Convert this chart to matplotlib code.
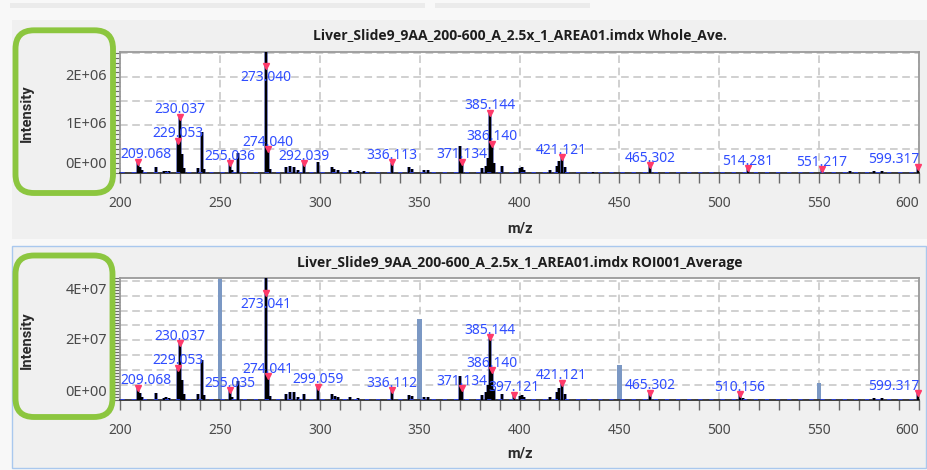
import matplotlib
matplotlib.use('Agg')
import matplotlib.pyplot as plt
import numpy as np
from matplotlib.patches import FancyBboxPatch, Rectangle
from matplotlib.transforms import ScaledTranslation
from matplotlib.ticker import MultipleLocator

plt.rcParams['font.family'] = ['Noto Sans', 'DejaVu Sans']

W, H, DPI = 928, 470, 100

# ---------------- data ----------------
title_top = "Liver_Slide9_9AA_200-600_A_2.5x_1_AREA01.imdx Whole_Ave."
title_bot = "Liver_Slide9_9AA_200-600_A_2.5x_1_AREA01.imdx ROI001_Average"

x_ticks = [200, 250, 300, 350, 400, 450, 500, 550, 600]

# top spectrum (intensity in units of 1E6)
top_mz = [209.068, 210.07, 211.0, 218.2, 222.0, 223.0, 224.5, 229.053, 230.037, 231.0,
          232.0, 239.2, 241.0, 242.0, 255.036, 256.0, 259.0, 273.040, 274.040, 275.0,
          283.3, 285.0, 287.0, 289.0, 292.039, 299.06, 306.1, 307.0, 309.0, 315.0,
          319.0, 322.0, 336.113, 344.9, 346.0, 352.0, 354.4, 370.3, 371.134, 381.3,
          383.0, 384.0, 385.144, 386.140, 387.1, 391.3, 400.3, 401.5, 402.5, 415.3,
          418.6, 420.0, 421.121, 422.8, 437.0, 465.302, 514.281, 551.217, 565.4, 577.4,
          581.6, 599.317]
top_int = [0.22, 0.12, 0.05, 0.12, 0.03, 0.04, 0.03, 0.67, 1.17, 0.40,
           0.10, 0.10, 0.84, 0.08, 0.20, 0.06, 0.42, 2.60, 0.49, 0.08,
           0.12, 0.13, 0.12, 0.05, 0.20, 0.22, 0.12, 0.07, 0.05, 0.06,
           0.04, 0.03, 0.20, 0.12, 0.07, 0.06, 0.06, 0.55, 0.23, 0.10,
           0.15, 0.30, 1.25, 0.60, 0.20, 0.15, 0.10, 0.12, 0.06, 0.06,
           0.15, 0.25, 0.32, 0.12, 0.02, 0.16, 0.09, 0.07, 0.04, 0.04,
           0.04, 0.12]
top_lab = ["209.068", "229.053", "230.037", "255.036", "273.040", "274.040", "292.039",
           "336.113", "371.134", "385.144", "386.140", "421.121", "465.302", "514.281",
           "551.217", "599.317"]
top_lab_int = [0.23, 0.67, 1.17, 0.20, 2.23, 0.49, 0.20, 0.22, 0.23, 1.25, 0.60, 0.32,
               0.16, 0.09, 0.07, 0.12]
top_ymax = 2.52
top_ylab = [0, 1, 2]
top_ylab_txt = ["0E+00", "1E+06", "2E+06"]
top_unit = 1e6

# bottom spectrum (intensity in units of 1E7)
bot_mz = [209.068, 210.07, 211.0, 218.2, 222.0, 223.0, 224.5, 229.053, 230.037, 231.0,
          232.0, 239.2, 241.0, 242.0, 255.035, 256.0, 259.0, 273.041, 274.041, 275.0,
          283.3, 285.0, 287.0, 289.0, 292.0, 299.059, 306.1, 307.5, 309.0, 315.0,
          319.0, 336.112, 344.9, 346.0, 352.0, 354.4, 370.3, 371.134, 381.3, 383.0,
          384.0, 385.144, 386.140, 387.1, 391.3, 397.121, 400.3, 401.5, 402.5, 415.3,
          418.6, 420.0, 421.121, 422.8, 465.302, 510.156, 512.0, 577.4, 581.6, 599.317]
bot_int = [0.40, 0.22, 0.10, 0.24, 0.06, 0.08, 0.06, 1.07, 1.91, 0.65,
           0.18, 0.18, 1.33, 0.15, 0.32, 0.10, 0.62, 4.50, 0.79, 0.12,
           0.20, 0.26, 0.26, 0.08, 0.20, 0.43, 0.20, 0.12, 0.08, 0.10,
           0.06, 0.32, 0.17, 0.12, 0.10, 0.08, 0.80, 0.39, 0.15, 0.25,
           0.50, 2.11, 0.99, 0.35, 0.20, 0.17, 0.12, 0.17, 0.08, 0.08,
           0.25, 0.40, 0.57, 0.20, 0.24, 0.18, 0.05, 0.06, 0.06, 0.21]
bot_lab = ["209.068", "229.053", "230.037", "255.035", "273.041", "274.041", "299.059",
           "336.112", "371.134", "385.144", "386.140", "397.121", "421.121", "465.302",
           "510.156", "599.317"]
bot_lab_int = [0.40, 1.07, 1.91, 0.32, 3.60, 0.79, 0.43, 0.32, 0.39, 2.11, 0.99, 0.17,
               0.57, 0.24, 0.18, 0.21]
bar_mz = [250, 350, 450, 550]
bar_int = [4.50, 2.73, 1.17, 0.57]
bot_ymax = 4.1
bot_ylab = [0, 2, 4]
bot_ylab_txt = ["0E+00", "2E+07", "4E+07"]
bot_unit = 1e7

# ---------------- styles ----------------
BLUE_TXT = '#2f4dff'
RED = '#ff3b6b'
GREEN = '#8cc63f'
GRID = '#c4c4c4'
FRAME = '#9a9a9a'
TICKC = '#6a6a6a'
LABC = '#4a4a4a'
BARC = '#7b98c4'

fig = plt.figure(figsize=(W / DPI, H / DPI), dpi=DPI, facecolor='#f8f8f8')


def fx(px):
    return px / W


def fy(py):
    return 1 - py / H


def frect(x0, y0, x1, y1, **kw):
    r = Rectangle((fx(x0), fy(y1)), fx(x1) - fx(x0), fy(y0) - fy(y1),
                  transform=fig.transFigure, zorder=-10, **kw)
    fig.patches.append(r)
    return r


# window decoration
frect(10, 3, 425, 8, facecolor='#ebebeb', edgecolor='none')
frect(435, 3, 590, 8, facecolor='#ebebeb', edgecolor='none')
frect(12, 20, 928, 239, facecolor='#f0f0f0', edgecolor='none')
frect(12, 246, 926, 468, facecolor='#f0f0f0', edgecolor='#a9c8ee', lw=1.0)

ax_top = fig.add_axes([fx(120), fy(172.7), fx(919) - fx(120), fy(52) - fy(172.7)])
ax_bot = fig.add_axes([fx(120), fy(399.7), fx(919) - fx(120), fy(278) - fy(399.7)])


def style_axes(ax, ymax, gstep, minor):
    ax.set_facecolor('white')
    ax.set_xlim(200, 600)
    ax.set_ylim(0, ymax)
    ax.set_xticks(x_ticks)
    ax.xaxis.set_minor_locator(MultipleLocator(10))
    ax.set_xticklabels([str(v) for v in x_ticks])
    ax.yaxis.set_major_locator(MultipleLocator(gstep))
    ax.yaxis.set_minor_locator(MultipleLocator(minor))
    ax.set_yticklabels([])
    ax.tick_params(axis='x', which='both', direction='out', length=7, width=1.0,
                   color=TICKC, labelsize=10, labelcolor=LABC, pad=10)
    ax.tick_params(axis='y', which='both', direction='out', length=4, width=0.8,
                   color=TICKC)
    ax.grid(True, which='major', color=GRID, ls=(0, (5, 3)), lw=1.1)
    for s in ax.spines.values():
        s.set_color(FRAME)
        s.set_linewidth(1.3)
    ax.spines['bottom'].set_color('#303030')
    ax.set_axisbelow(True)


def draw_spectrum(ax, mz, inten, unit):
    y = np.array(inten) * unit
    ax.vlines(mz, 0, y, color='#2233cc', lw=2.6, alpha=0.55, zorder=3)
    ax.vlines(mz, 0, y, color='black', lw=1.7, zorder=3)
    ax.axhline(0, color='#2a3fe0', lw=2.0, ls=(0, (1.5, 2.5)), zorder=3.5)


def draw_labels(ax, labs, lab_int, unit):
    r = fig.canvas.get_renderer()
    axbb = ax.get_window_extent(r)
    for txt, yi in zip(labs, lab_int):
        x = float(txt)
        y = yi * unit
        ax.plot([x], [y], marker='v', ms=5, color=RED, mec=RED, zorder=6,
                clip_on=False)
        dy = 2.5 / 72
        t = ax.text(x, y, txt, transform=ax.transData + ScaledTranslation(0, dy, fig.dpi_scale_trans),
                    ha='center', va='baseline', color=BLUE_TXT, fontsize=10, zorder=7)
        bb = t.get_window_extent(r)
        if bb.y1 > axbb.y1 - 1:
            dy = -3.0 / 72
            t.set_va('top')
            t.set_transform(ax.transData + ScaledTranslation(0, dy, fig.dpi_scale_trans))
            bb = t.get_window_extent(r)
        dx = 0
        if bb.x0 < axbb.x0:
            dx = (axbb.x0 - bb.x0) / DPI
        elif bb.x1 > axbb.x1:
            dx = (axbb.x1 - bb.x1) / DPI
        t.set_transform(ax.transData + ScaledTranslation(dx, dy, fig.dpi_scale_trans))


def draw_ylabels(ax, vals, txts, unit):
    r = fig.canvas.get_renderer()
    axbb = ax.get_window_extent(r)
    for v, s in zip(vals, txts):
        py = ax.transData.transform((200, v * unit))[1]
        py = min(max(py, axbb.y0 + 7.7), axbb.y1 - 12)
        fig.text((axbb.x0 - 13) / W, py / H, s, ha='right', va='center',
                 fontsize=10.5, color=LABC)


style_axes(ax_top, top_ymax * top_unit, 0.5 * top_unit, 0.1 * top_unit)
style_axes(ax_bot, bot_ymax * bot_unit, 0.5 * bot_unit, 0.1 * bot_unit)

ax_bot.bar(bar_mz, np.array(bar_int) * bot_unit, width=2.3, color=BARC, zorder=2.5)

draw_spectrum(ax_top, top_mz, top_int, top_unit)
draw_spectrum(ax_bot, bot_mz, bot_int, bot_unit)

fig.canvas.draw()
for ax in (ax_top, ax_bot):
    ax.get_xticklabels()[-1].set_horizontalalignment('right')
draw_labels(ax_top, top_lab, top_lab_int, top_unit)
draw_labels(ax_bot, bot_lab, bot_lab_int, bot_unit)
draw_ylabels(ax_top, top_ylab, top_ylab_txt, top_unit)
draw_ylabels(ax_bot, bot_ylab, bot_ylab_txt, bot_unit)

# titles and axis labels
for ty, tt in [(35, title_top), (263, title_bot)]:
    fig.text(fx(519.5), fy(ty), tt, ha='center', va='center', fontsize=10,
             fontweight='bold', color='#1e1e1e', family=['Open Sans', 'DejaVu Sans'])
for ty in (228, 453):
    fig.text(fx(519.5), fy(ty), 'm/z', ha='center', va='center', fontsize=10.5,
             fontweight='bold', color='#2a2a2a', family=['Roboto', 'DejaVu Sans'])
for ty in (113, 340):
    fig.text(fx(27), fy(ty), 'Intensity', ha='center', va='center', fontsize=10.5,
             fontweight='bold', color='#2a2a2a', rotation=90,
             family=['Roboto', 'DejaVu Sans'])

# green highlight boxes
for (x0, y0, x1, y1) in [(15.5, 30.3, 113, 193), (15.5, 255.5, 112.5, 417)]:
    p = FancyBboxPatch((fx(x0), fy(y1)), fx(x1) - fx(x0), fy(y0) - fy(y1),
                       boxstyle='round,pad=0,rounding_size=0.02',
                       transform=fig.transFigure, facecolor='none',
                       edgecolor=GREEN, lw=4.2, zorder=10, mutation_aspect=W / H)
    fig.patches.append(p)

fig.savefig('out.png', dpi=DPI, facecolor=fig.get_facecolor())
